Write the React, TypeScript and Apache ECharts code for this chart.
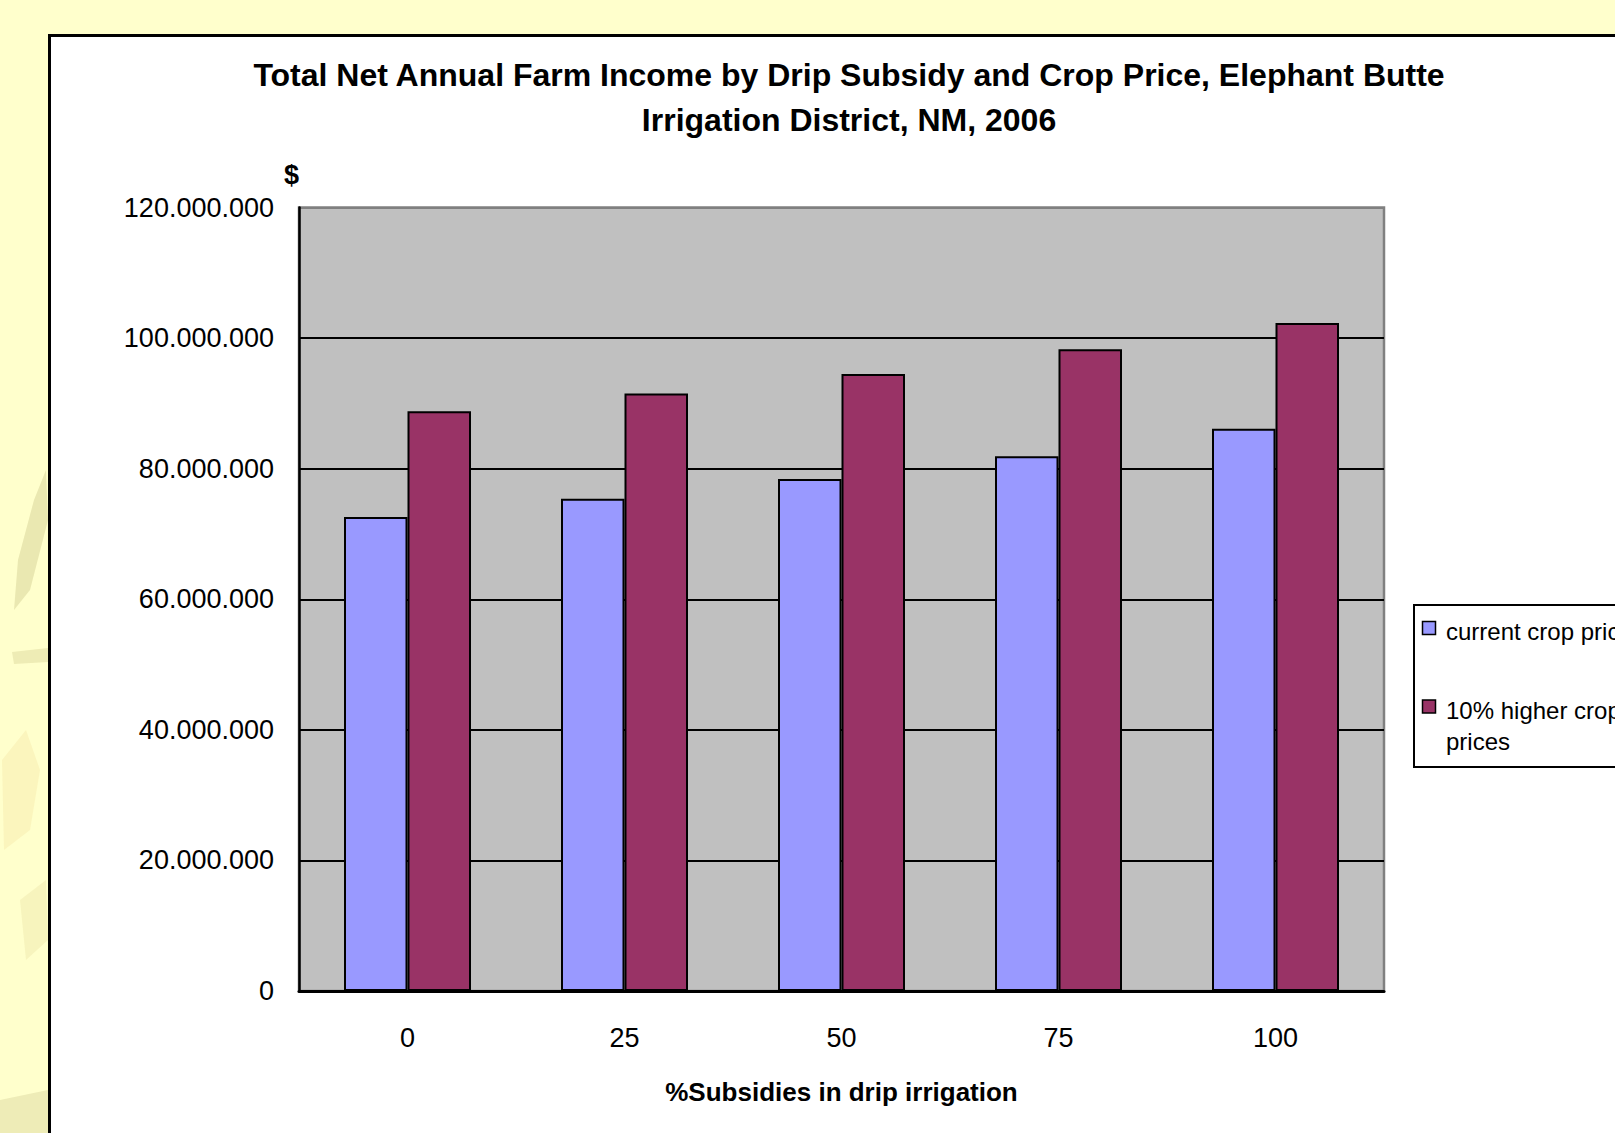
import React, { useEffect, useRef } from "react";
import * as echarts from "echarts";

const categories = ["0", "25", "50", "75", "100"];
const currentPrices = [72600000, 75400000, 78400000, 81900000, 86100000];
const higherPrices = [88800000, 91500000, 94500000, 98300000, 102300000];
const seriesNames = ["current crop prices", "10% higher crop prices"];
const seriesColors = ["#9999FF", "#993366"];
const titleLines = [
  "Total Net Annual Farm Income by Drip Subsidy and Crop Price, Elephant Butte",
  "Irrigation District, NM, 2006",
];
const yAxisName = "$";
const xAxisName = "%Subsidies in drip irrigation";
const yMax = 120000000;
const yInterval = 20000000;

const FONT = "'Liberation Sans', Arial, sans-serif";

const fmt = (v: number) =>
  Math.round(v).toString().replace(/\B(?=(\d{3})+(?!\d))/g, ".");

export default function App() {
  const ref = useRef<HTMLDivElement>(null);

  useEffect(() => {
    if (!ref.current) return;
    const chart = echarts.init(ref.current, null, { renderer: "svg" });

    const splitColors = [];
    for (let v = 0; v <= yMax; v += yInterval) {
      splitColors.push(v === yMax ? "#808080" : "#000000");
    }

    const legendItemsY = [628, 706.5];
    const legendGraphics: any[] = [
      {
        type: "rect",
        shape: { x: 1414, y: 605, width: 300, height: 162 },
        style: { fill: "#ffffff", stroke: "#000000", lineWidth: 2 },
        z: 50,
      },
    ];
    seriesNames.forEach((name, i) => {
      legendGraphics.push({
        type: "rect",
        shape: { x: 1422.5, y: legendItemsY[i] - 6.5, width: 13, height: 13 },
        style: { fill: seriesColors[i], stroke: "#000000", lineWidth: 1.5 },
        z: 51,
      });
      legendGraphics.push({
        type: "text",
        x: 1446,
        y: legendItemsY[i] + 3.7 - 15.75,
        style: {
          text: name,
          font: `24px ${FONT}`,
          fill: "#000000",
          width: 205,
          overflow: "break",
          lineHeight: 31.5,
          verticalAlign: "top",
          align: "left",
        },
        z: 51,
      });
    });

    const deco: any[] = [
      { pts: [[18, 560], [34, 500], [46, 470], [48, 520], [30, 590], [14, 610]], c: "rgba(160,150,80,0.22)" },
      { pts: [[12, 652], [48, 648], [48, 662], [14, 664]], c: "rgba(160,150,80,0.18)" },
      { pts: [[2, 760], [26, 730], [40, 770], [30, 830], [4, 850]], c: "rgba(230,190,110,0.16)" },
      { pts: [[20, 900], [46, 880], [48, 940], [26, 960]], c: "rgba(200,180,100,0.14)" },
      { pts: [[0, 1100], [48, 1090], [48, 1133], [0, 1133]], c: "rgba(170,160,100,0.2)" },
    ].map((d) => ({
      type: "polygon",
      shape: { points: d.pts },
      style: { fill: d.c },
      z: 1,
    }));

    chart.setOption({
      animation: false,
      textStyle: { fontFamily: FONT },
      title: {
        text: titleLines.join("\n"),
        left: 849,
        top: 52,
        padding: 0,
        textAlign: "center",
        textStyle: {
          fontFamily: FONT,
          fontSize: 32,
          fontWeight: "bold",
          color: "#000000",
          lineHeight: 45,
        },
      },
      grid: {
        left: 299,
        top: 207.5,
        width: 1085,
        height: 783.5,
        show: true,
        backgroundColor: "#C0C0C0",
        borderColor: "#808080",
        borderWidth: 2.5,
      },
      xAxis: {
        type: "category",
        data: categories,
        name: xAxisName,
        nameLocation: "middle",
        nameGap: 88,
        nameTextStyle: {
          fontFamily: FONT,
          fontSize: 26,
          fontWeight: "bold",
          color: "#000000",
        },
        axisLine: { show: true, lineStyle: { color: "#000000", width: 3 } },
        axisTick: { show: false },
        axisLabel: { fontFamily: FONT, fontSize: 27, color: "#000000", margin: 33 },
        splitLine: { show: false },
      },
      yAxis: {
        type: "value",
        min: 0,
        max: yMax,
        interval: yInterval,
        name: yAxisName,
        nameLocation: "end",
        nameGap: 19,
        nameTextStyle: {
          fontFamily: FONT,
          fontSize: 27,
          fontWeight: "bold",
          color: "#000000",
          align: "right",
        },
        axisLine: { show: true, lineStyle: { color: "#000000", width: 2.5 } },
        axisTick: { show: false },
        axisLabel: {
          fontFamily: FONT,
          fontSize: 27,
          color: "#000000",
          margin: 25,
          formatter: (v: number) => fmt(v),
        },
        splitLine: { show: true, lineStyle: { color: splitColors, width: 2 } },
      },
      series: [
        {
          name: seriesNames[0],
          type: "bar",
          data: currentPrices,
          barWidth: 63.5,
          barGap: "0%",
          itemStyle: { color: seriesColors[0], borderColor: "#000000", borderWidth: 2 },
        },
        {
          name: seriesNames[1],
          type: "bar",
          data: higherPrices,
          barWidth: 63.5,
          barGap: "0%",
          itemStyle: { color: seriesColors[1], borderColor: "#000000", borderWidth: 2 },
        },
      ],
      graphic: [...deco, ...legendGraphics],
    });

    return () => chart.dispose();
  }, []);

  return (
    <div
      style={{
        position: "absolute",
        left: 0,
        top: 0,
        width: 1615,
        height: 1133,
        background: "#FFFFCC",
        overflow: "hidden",
      }}
    >
      <div
        style={{
          position: "absolute",
          left: 48,
          top: 33.5,
          width: 1700,
          height: 1200,
          background: "#ffffff",
          border: "3px solid #000000",
        }}
      />
      <div
        ref={ref}
        style={{ position: "absolute", left: 0, top: 0, width: 1615, height: 1133 }}
      />
    </div>
  );
}
